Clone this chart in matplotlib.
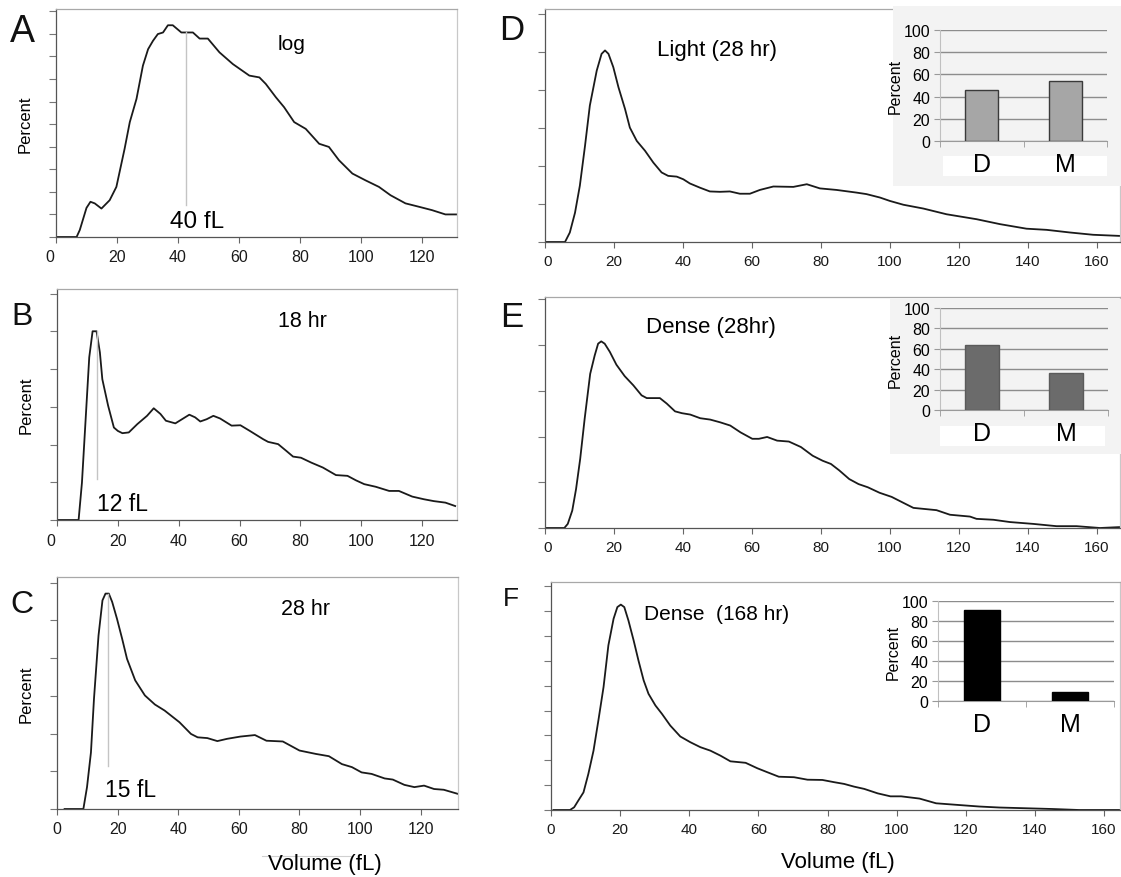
import matplotlib
matplotlib.use("Agg")
import matplotlib.pyplot as plt
from matplotlib.patches import Rectangle
from matplotlib.lines import Line2D
from matplotlib.transforms import ScaledTranslation

plt.rcParams['font.family'] = ['Liberation Sans', 'DejaVu Sans']

# ---------------- data ----------------
A_x = [0.4, 6.75, 7.8, 10.0, 11.3, 12.7, 14.9, 17.6, 19.8, 22.5, 24.2, 26.4, 28.5, 30.2, 31.8, 33.4, 35.1, 36.7,
       38.3, 41.1, 42.7, 44.9, 47.1, 49.8, 53.6, 58.0, 63.4, 66.7, 68.8, 72.1, 74.8, 78.1, 81.9, 86.3, 89.5, 92.8,
       97.2, 101.5, 105.9, 109.7, 114.6, 119.0, 123.3, 127.7, 131.5]
A_y = [0, 0, 0.31, 1.29, 1.56, 1.49, 1.26, 1.63, 2.22, 3.91, 5.09, 6.12, 7.59, 8.32, 8.69, 8.99, 9.06, 9.38,
       9.38, 9.06, 9.06, 9.06, 8.79, 8.79, 8.18, 7.66, 7.15, 7.07, 6.78, 6.19, 5.75, 5.09, 4.79, 4.13, 3.99, 3.40,
       2.81, 2.51, 2.22, 1.85, 1.49, 1.34, 1.19, 1.0, 1.0]

B_x = [0.4, 7.1, 8.2, 10.6, 11.7, 13.0, 14.1, 14.9, 16.8, 18.7, 20.0, 21.5, 23.6, 26.4, 29.6, 31.8, 34.0, 35.8,
       38.9, 41.1, 43.5, 45.4, 47.1, 49.2, 51.4, 53.6, 57.4, 60.3, 63.4, 67.8, 69.4, 72.7, 75.4, 77.6, 80.2, 83.6,
       87.4, 91.7, 95.5, 98.3, 101.0, 104.8, 109.2, 112.4, 116.8, 120.6, 123.9, 127.7, 130.9]
B_y = [0, 0, 0.99, 4.31, 5.0, 5.0, 4.44, 3.73, 3.03, 2.45, 2.36, 2.30, 2.32, 2.54, 2.76, 2.96, 2.81, 2.63,
       2.56, 2.67, 2.79, 2.72, 2.61, 2.67, 2.76, 2.69, 2.50, 2.51, 2.36, 2.14, 2.07, 2.01, 1.83, 1.68, 1.65, 1.52,
       1.39, 1.19, 1.17, 1.05, 0.95, 0.88, 0.77, 0.77, 0.62, 0.55, 0.50, 0.46, 0.37]

C_x = [2.5, 8.7, 9.9, 11.2, 12.2, 13.7, 15.0, 16.0, 17.1, 18.2, 19.8, 21.5, 23.1, 25.8, 29.0, 32.3, 35.5, 40.4,
       44.2, 46.4, 49.6, 52.9, 56.1, 60.5, 65.3, 69.1, 74.5, 80.0, 85.4, 89.7, 94.0, 97.3, 100.5, 103.8, 108.1,
       110.8, 114.6, 117.9, 121.1, 124.4, 127.6, 132.3]
C_y = [0, 0, 0.58, 1.5, 2.92, 4.6, 5.53, 5.71, 5.71, 5.49, 5.04, 4.51, 3.98, 3.41, 3.01, 2.77, 2.61, 2.30,
       1.99, 1.90, 1.88, 1.80, 1.86, 1.92, 1.96, 1.81, 1.79, 1.55, 1.46, 1.40, 1.19, 1.11, 0.97, 0.93, 0.81,
       0.78, 0.64, 0.58, 0.62, 0.53, 0.51, 0.40]

D_x = [0.5, 5.8, 7.2, 8.7, 10.1, 11.6, 13.0, 15.0, 16.4, 17.4, 18.4, 19.8, 21.3, 23.2, 24.6, 26.6, 29.0, 31.4,
       33.8, 35.7, 38.2, 40.1, 42.0, 44.9, 47.8, 50.7, 53.6, 56.5, 59.4, 62.3, 66.2, 72.0, 75.9, 79.7, 84.5,
       90.3, 93.2, 97.1, 100.0, 103.9, 109.7, 116.4, 125.1, 131.9, 139.6, 145.4, 152.2, 158.9, 166.7]
D_y = [0, 0, 0.25, 0.77, 1.48, 2.53, 3.59, 4.51, 4.95, 5.04, 4.95, 4.60, 4.07, 3.50, 3.01, 2.66, 2.40, 2.09,
       1.83, 1.74, 1.72, 1.65, 1.54, 1.43, 1.33, 1.32, 1.33, 1.27, 1.27, 1.37, 1.46, 1.45, 1.52, 1.41, 1.37,
       1.30, 1.26, 1.17, 1.08, 0.98, 0.88, 0.73, 0.60, 0.47, 0.35, 0.32, 0.25, 0.19, 0.16]

E_x = [0.3, 5.6, 6.6, 7.9, 9.0, 10.2, 11.5, 13.1, 14.4, 15.4, 16.3, 17.3, 18.8, 20.7, 23.1, 25.6, 28.0, 29.5,
       31.4, 33.3, 35.3, 37.7, 39.7, 42.1, 45.0, 47.9, 50.8, 53.7, 56.7, 60.1, 62.0, 64.4, 67.3, 70.7, 74.2, 77.6,
       80.5, 82.9, 85.3, 88.2, 90.9, 93.6, 97.0, 100.5, 103.9, 106.8, 113.5, 117.4, 123.2, 125.1, 130.0, 134.8,
       141.5, 148.3, 154.1, 160.9, 166.7]
E_y = [0, 0, 0.09, 0.38, 0.85, 1.51, 2.39, 3.37, 3.77, 4.03, 4.08, 4.03, 3.85, 3.57, 3.32, 3.12, 2.90, 2.84,
       2.84, 2.84, 2.72, 2.55, 2.51, 2.48, 2.40, 2.37, 2.31, 2.24, 2.09, 1.95, 1.95, 1.99, 1.91, 1.89, 1.77, 1.58,
       1.47, 1.40, 1.26, 1.07, 0.96, 0.89, 0.77, 0.68, 0.55, 0.44, 0.39, 0.29, 0.25, 0.20, 0.18, 0.13,
       0.09, 0.04, 0.04, 0.0, 0.02]

F_x = [0.7, 5.5, 6.7, 7.9, 9.4, 10.8, 12.3, 13.7, 15.2, 16.6, 18.1, 19.2, 20.2, 21.2, 22.4, 23.9, 25.3, 26.8,
       28.2, 30.2, 32.1, 34.5, 37.4, 40.3, 43.2, 46.1, 49.0, 51.9, 56.3, 59.7, 62.6, 65.9, 70.3, 74.2, 78.5, 81.9,
       84.8, 87.7, 90.6, 94.5, 98.2, 101.3, 106.6, 111.4, 118.1, 123.9, 129.7, 137.4, 145.1, 152.8, 164.6]
F_y = [0, 0, 0.11, 0.38, 0.71, 1.45, 2.39, 3.60, 4.95, 6.63, 7.70, 8.17, 8.27, 8.17, 7.63, 6.83, 6.02, 5.22,
       4.68, 4.21, 3.87, 3.40, 2.96, 2.73, 2.53, 2.39, 2.19, 1.96, 1.90, 1.68, 1.52, 1.34, 1.32, 1.22, 1.21, 1.12,
       1.05, 0.94, 0.85, 0.67, 0.55, 0.55, 0.46, 0.27, 0.20, 0.14, 0.10, 0.07, 0.04, 0.0, 0.0]

left_xticks = [0, 20, 40, 60, 80, 100, 120]
right_xticks = [0, 20, 40, 60, 80, 100, 120, 140, 160]

inset_cats = ['D', 'M']
inset_D = [46, 54]
inset_E = [64, 36]
inset_F = [91, 9]
inset_yticks = [0, 20, 40, 60, 80, 100]

# ---------------- layout ----------------
W, H = 1121, 878
fig = plt.figure(figsize=(W / 100, H / 100), dpi=100)
fig.patch.set_facecolor('white')


def rect(l, t, r, b):
    return [l / W, 1 - b / H, (r - l) / W, (b - t) / H]


def panel(box, x, y, xlim, ylim, nyt, xticks, fs, shift0=0.0):
    ax = fig.add_axes(rect(*box))
    ax.plot(x, y, color='#1a1a1a', lw=1.3, solid_joinstyle='round')
    ax.set_xlim(*xlim)
    ax.set_ylim(*ylim)
    ax.set_xticks(xticks)
    ax.set_yticks(range(nyt + 1))
    ax.tick_params(axis='y', length=5, width=0.8, color='#777777', labelleft=False)
    ax.tick_params(axis='x', length=4, width=0.8, color='#666666', labelsize=fs, labelcolor='#1a1a1a', pad=5)
    ax.spines['left'].set_color('#555555')
    ax.spines['bottom'].set_color('#555555')
    ax.spines['top'].set_color('#a8a8a8')
    ax.spines['right'].set_color('#c8c8c8')
    for s in ax.spines.values():
        s.set_linewidth(0.9)
    if shift0:
        lab = ax.get_xticklabels()[0]
        lab.set_transform(lab.get_transform() + ScaledTranslation(shift0 / 100, 0, fig.dpi_scale_trans))
    return ax


axA = panel((56, 10, 457, 238), A_x, A_y, (0, 131.5), (0, 10.1), 10, left_xticks, 11.5, shift0=-6)
axB = panel((57, 290, 457, 521), B_x, B_y, (0, 131.5), (0, 6.12), 6, left_xticks, 11.5, shift0=-6)
axC = panel((57, 578, 458, 810), C_x, C_y, (1.95, 132.3), (0, 6.15), 6, left_xticks, 11.5)
axD = panel((545, 10, 1120, 243), D_x, D_y, (0, 166.7), (0, 6.13), 6, right_xticks, 11, shift0=3)
axE = panel((545, 298, 1120, 529), E_x, E_y, (0, 166.7), (0, 5.05), 5, right_xticks, 11, shift0=3)
axF = panel((551, 583, 1120, 811), F_x, F_y, (0, 164.6), (0, 9.18), 9, right_xticks, 11)

for ax in (axA, axB, axC):
    ax.set_ylabel('Percent', fontsize=12, labelpad=12)

# annotations
axA.plot([42.5, 42.5], [1.41, 9.06], color='#c4c4c4', lw=1)
axA.text(37.3, 0.46, '40 fL', fontsize=17.5, ha='left', va='baseline')
axA.text(72.7, 8.32, 'log', fontsize=15, ha='left', va='baseline')

axB.plot([13.0, 13.0], [1.08, 5.0], color='#c4c4c4', lw=1)
axB.text(13.3, 0.27, '12 fL', fontsize=16.5, ha='left', va='baseline')
axB.text(72.7, 5.13, '18 hr', fontsize=15.5, ha='left', va='baseline')

axC.plot([16.8, 16.8], [1.15, 5.71], color='#c4c4c4', lw=1)
axC.text(16.0, 0.34, '15 fL', fontsize=16.5, ha='left', va='baseline')
axC.text(74.0, 5.18, '28 hr', fontsize=15.5, ha='left', va='baseline')

axD.text(32.4, 4.92, 'Light (28 hr)', fontsize=16, ha='left', va='baseline')
axE.text(29.4, 4.28, 'Dense (28hr)', fontsize=16, ha='left', va='baseline')
axF.text(27.0, 7.70, 'Dense  (168 hr)', fontsize=15, ha='left', va='baseline')

# panel letters
for letter, xl, yb, fs in [('A', 10, 42, 27), ('B', 11, 325, 23), ('C', 10, 613, 23),
                           ('D', 499, 40, 25), ('E', 500, 327, 25), ('F', 503, 606, 19)]:
    fig.text(xl / W, 1 - yb / H, letter, fontsize=fs, ha='left', va='baseline', color='#111111')

# x labels
fig.add_artist(Line2D([262 / W, 352 / W], [1 - 857 / H, 1 - 857 / H], color='#d0d0d0', lw=0.8))
fig.text(325 / W, 1 - 865 / H, 'Volume (fL)', fontsize=16, ha='center', va='center')
fig.text(838 / W, 1 - 863 / H, 'Volume (fL)', fontsize=16, ha='center', va='center')


# insets
def inset(plot_box, vals, color, edge, bg_box=None, lab_box=None):
    if bg_box is not None:
        fig.add_artist(Rectangle((bg_box[0] / W, 1 - bg_box[3] / H), (bg_box[2] - bg_box[0]) / W,
                                 (bg_box[3] - bg_box[1]) / H, transform=fig.transFigure,
                                 facecolor='#f3f3f3', edgecolor='none', zorder=2))
    if lab_box is not None:
        fig.add_artist(Rectangle((lab_box[0] / W, 1 - lab_box[3] / H), (lab_box[2] - lab_box[0]) / W,
                                 (lab_box[3] - lab_box[1]) / H, transform=fig.transFigure,
                                 facecolor='white', edgecolor='none', zorder=2.5))
    ax = fig.add_axes(rect(*plot_box))
    ax.set_zorder(3)
    ax.patch.set_alpha(0)
    ax.set_axisbelow(True)
    pos = list(range(len(inset_cats)))
    ax.bar(pos, vals, width=0.4, color=color, edgecolor=edge, linewidth=1.0, zorder=3)
    ax.set_xlim(-0.5, 1.5)
    ax.set_ylim(0, 100)
    ax.set_yticks(inset_yticks)
    ax.yaxis.grid(True, color='#8c8c8c', lw=1)
    ax.set_xticks(pos)
    ax.set_xticklabels(inset_cats)
    ax.set_xticks([-0.5, 0.5, 1.5], minor=True)
    ax.tick_params(axis='x', which='major', length=0, labelsize=18, pad=8)
    ax.tick_params(axis='x', which='minor', length=4, color='#999999')
    ax.tick_params(axis='y', length=4, color='#999999', labelsize=11.5, pad=3)
    ax.set_ylabel('Percent', fontsize=11.5, labelpad=1)
    for s in ('top', 'right'):
        ax.spines[s].set_visible(False)
    ax.spines['left'].set_color('#c0c0c0')
    ax.spines['bottom'].set_color('#9a9a9a')
    return ax


inset((940, 31, 1107, 142), inset_D, '#a6a6a6', '#3a3a3a', bg_box=(893, 7, 1121, 187),
      lab_box=(943, 157, 1107, 177))
inset((940, 309, 1108, 411), inset_E, '#6b6b6b', '#5a5a5a', bg_box=(890, 300, 1121, 455),
      lab_box=(940, 427, 1105, 447))
inset((938, 602, 1114, 702), inset_F, '#000000', '#000000')

fig.savefig('out.png', dpi=100, facecolor='white')
